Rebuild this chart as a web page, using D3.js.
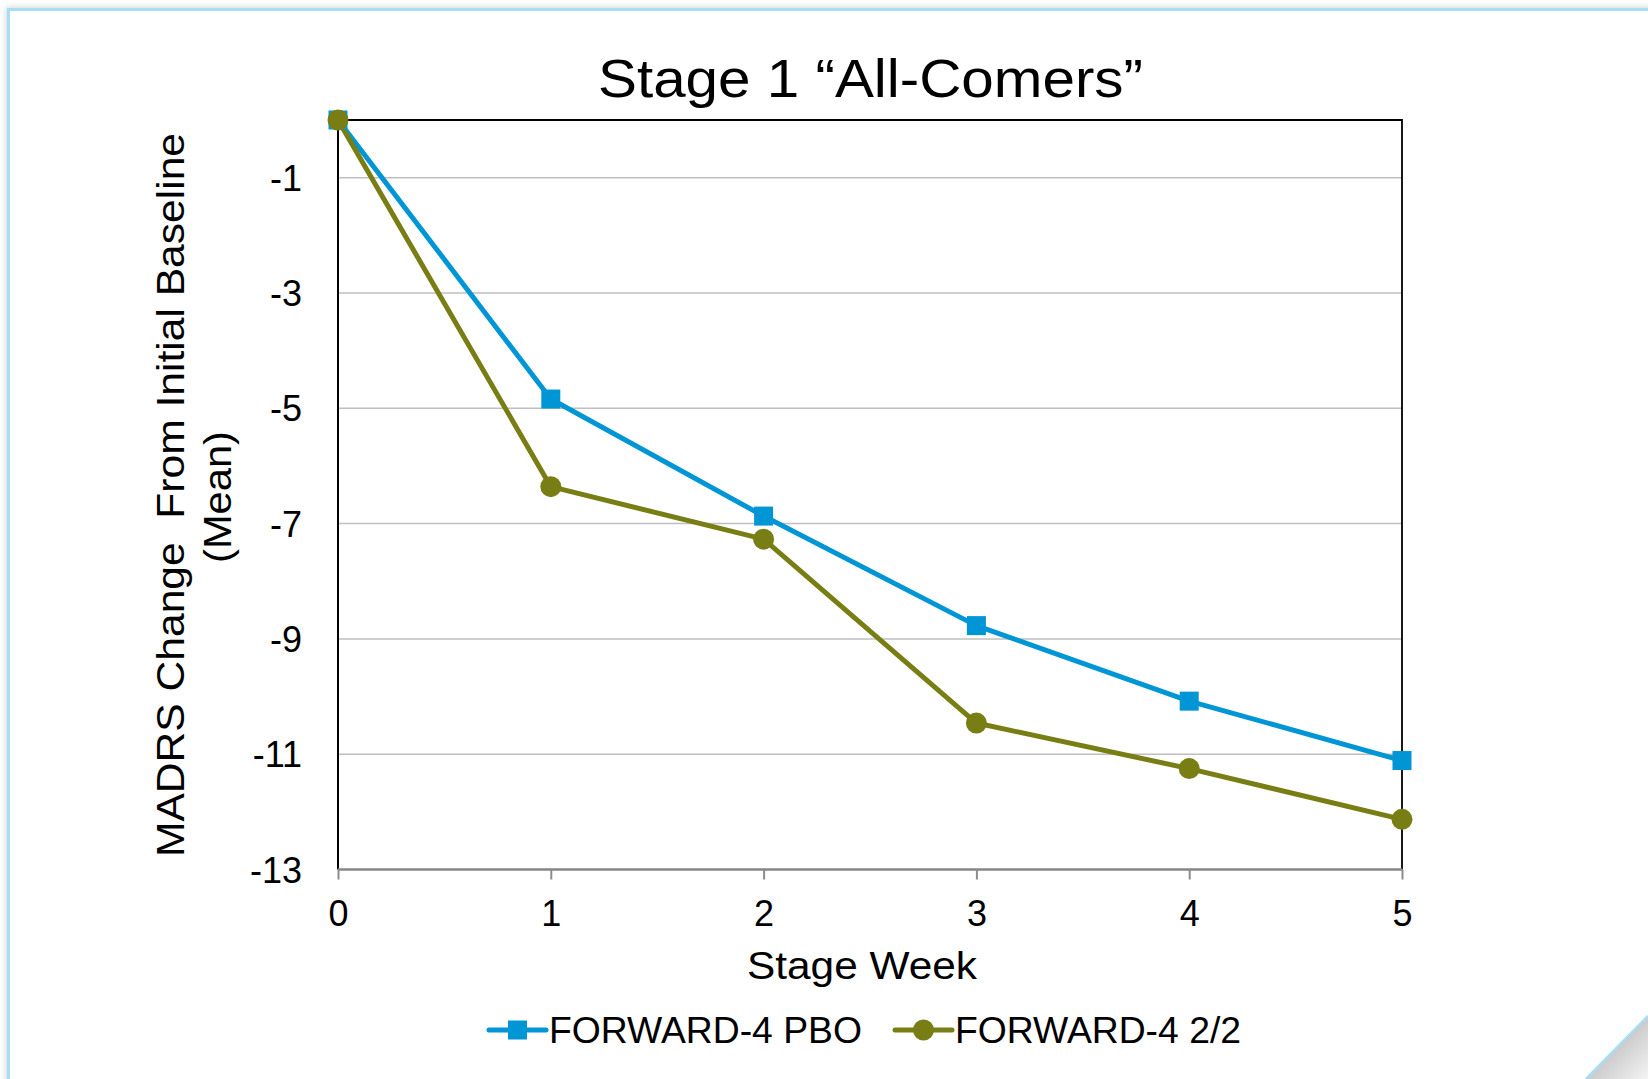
<!DOCTYPE html>
<html>
<head>
<meta charset="utf-8">
<script src="https://cdn.jsdelivr.net/npm/d3@7"></script>
<style>
  html, body { margin: 0; padding: 0; background: #ffffff; }
  svg { display: block; }
  text { font-family: "Liberation Sans", Arial, sans-serif; fill: #000; }
</style>
</head>
<body>
<svg id="chart" width="1648" height="1079"></svg>
<script>
// Stage weeks and mean MADRS change per arm
const weeks = [0, 1, 2, 3, 4, 5];
const pboValues = [0, -4.84, -6.87, -8.77, -10.08, -11.11];
const dualValues = [0, -6.36, -7.27, -10.46, -11.25, -12.13];
const seriesNames = ["FORWARD-4 PBO", "FORWARD-4 2/2"];
const yTickValues = [-1, -3, -5, -7, -9, -11, -13];
const yTickLabels = ["-1", "-3", "-5", "-7", "-9", "-11", "-13"];
const xTickLabels = ["0", "1", "2", "3", "4", "5"];
const titleText = "Stage 1 \u201CAll-Comers\u201D";
const xAxisTitle = "Stage Week";
const yAxisTitleLines = ["MADRS Change  From Initial Baseline", "(Mean)"];

const blue = "#0096D6";
const olive = "#787D14";

const svg = d3.select("#chart");
const defs = svg.append("defs");

// soft shadow around the slide frame
const shadow = defs.append("filter").attr("id", "frameShadow")
  .attr("x", "-5%").attr("y", "-5%").attr("width", "110%").attr("height", "110%");
shadow.append("feDropShadow").attr("dx", -1).attr("dy", -1)
  .attr("stdDeviation", 3).attr("flood-color", "#888").attr("flood-opacity", 0.35);

const curlGrad = defs.append("linearGradient").attr("id", "curlGrad")
  .attr("x1", "0").attr("y1", "0").attr("x2", "1").attr("y2", "1");
curlGrad.append("stop").attr("offset", "0").attr("stop-color", "#9a9a9a");
curlGrad.append("stop").attr("offset", "0.55").attr("stop-color", "#cfcfcf");
curlGrad.append("stop").attr("offset", "1").attr("stop-color", "#f4f4f4");

// slide frame
svg.append("rect")
  .attr("x", 8.5).attr("y", 9.5).attr("width", 1700).attr("height", 1120)
  .attr("fill", "#fff").attr("stroke", "#A6DDF7").attr("stroke-width", 3)
  .attr("filter", "url(#frameShadow)");

// page curl in the lower right corner
svg.append("polygon")
  .attr("points", "1648,1016 1586,1079 1648,1079")
  .attr("fill", "url(#curlGrad)");
svg.append("line")
  .attr("x1", 1648).attr("y1", 1016).attr("x2", 1586).attr("y2", 1079)
  .attr("stroke", "#A6DDF7").attr("stroke-width", 2.5);

// plot area
const plot = { left: 338, right: 1402, top: 120, bottom: 869.5 };

const x = d3.scaleLinear().domain([0, 5]).range([plot.left, plot.right]);
const y = d3.scaleLinear().domain([-13, 0]).range([plot.bottom, plot.top]);

// horizontal gridlines
svg.append("g")
  .selectAll("line")
  .data(yTickValues.filter(v => v !== -13))
  .join("line")
  .attr("x1", plot.left).attr("x2", plot.right)
  .attr("y1", d => y(d)).attr("y2", d => y(d))
  .attr("stroke", "#BFBFBF").attr("stroke-width", 1.5);

// top and right border of the plot area
svg.append("path")
  .attr("d", `M${plot.left},${y(0)} H${plot.right} V${plot.bottom}`)
  .attr("fill", "none").attr("stroke", "#000").attr("stroke-width", 1.8);

// y axis
const yAxis = d3.axisLeft(y).tickValues(yTickValues).tickSize(0).tickPadding(36)
  .tickFormat((d, i) => yTickLabels[i]);
const gy = svg.append("g").attr("transform", `translate(${plot.left},0)`).call(yAxis);
gy.select(".domain").remove();
gy.append("line")
  .attr("x1", 0).attr("x2", 0).attr("y1", y(0)).attr("y2", plot.bottom)
  .attr("stroke", "#000").attr("stroke-width", 2);
gy.selectAll(".tick text")
  .attr("font-size", 36).attr("font-family", "Liberation Sans, Arial, sans-serif")
  .attr("fill", "#000").attr("dy", "0.35em");

// x axis
const xAxis = d3.axisBottom(x).tickValues(weeks).tickSize(10).tickPadding(21)
  .tickFormat((d, i) => xTickLabels[i]);
const gx = svg.append("g").attr("transform", `translate(0,${plot.bottom})`).call(xAxis);
gx.select(".domain").attr("stroke", "#868686").attr("stroke-width", 2.5)
  .attr("d", `M${plot.left},0H${plot.right}`);
gx.selectAll(".tick line").attr("stroke", "#8c8c8c").attr("stroke-width", 2);
gx.selectAll(".tick text")
  .attr("font-size", 36).attr("font-family", "Liberation Sans, Arial, sans-serif")
  .attr("fill", "#000").attr("dy", "0.71em");

// series lines and markers
const line = d3.line().x((d, i) => x(weeks[i])).y(d => y(d));

svg.append("path").datum(pboValues)
  .attr("d", line).attr("fill", "none")
  .attr("stroke", blue).attr("stroke-width", 5).attr("stroke-linejoin", "round");
svg.append("path").datum(dualValues)
  .attr("d", line).attr("fill", "none")
  .attr("stroke", olive).attr("stroke-width", 5).attr("stroke-linejoin", "round");

const sq = 19;
svg.append("g").selectAll("rect")
  .data(pboValues)
  .join("rect")
  .attr("x", (d, i) => x(weeks[i]) - sq / 2)
  .attr("y", d => y(d) - sq / 2)
  .attr("width", sq).attr("height", sq)
  .attr("fill", blue);

svg.append("g").selectAll("circle")
  .data(dualValues)
  .join("circle")
  .attr("cx", (d, i) => x(weeks[i]))
  .attr("cy", d => y(d))
  .attr("r", 10.5)
  .attr("fill", olive);

// title
svg.append("text")
  .attr("x", 598).attr("y", 97)
  .attr("font-size", 53)
  .attr("textLength", 545).attr("lengthAdjust", "spacingAndGlyphs")
  .text(titleText);

// x axis title
svg.append("text")
  .attr("x", 747).attr("y", 979)
  .attr("font-size", 38)
  .attr("textLength", 230).attr("lengthAdjust", "spacingAndGlyphs")
  .text(xAxisTitle);

// y axis title, two rotated lines
const yTitle = svg.append("g");
yTitle.append("text")
  .attr("transform", "translate(184,857) rotate(-90)")
  .attr("font-size", 38)
  .attr("textLength", 724).attr("lengthAdjust", "spacingAndGlyphs")
  .attr("xml:space", "preserve")
  .style("white-space", "pre")
  .text(yAxisTitleLines[0]);
yTitle.append("text")
  .attr("transform", "translate(231,563) rotate(-90)")
  .attr("font-size", 38)
  .attr("textLength", 132).attr("lengthAdjust", "spacingAndGlyphs")
  .text(yAxisTitleLines[1]);

// legend
const legendY = 1030;
const legend = svg.append("g");
const legendItems = [
  { name: seriesNames[0], color: blue, x0: 489, x1: 546, tx: 549, len: 313, shape: "square" },
  { name: seriesNames[1], color: olive, x0: 895, x1: 952, tx: 955, len: 286, shape: "circle" }
];
legendItems.forEach(it => {
  legend.append("line")
    .attr("x1", it.x0).attr("x2", it.x1).attr("y1", legendY).attr("y2", legendY)
    .attr("stroke", it.color).attr("stroke-width", 5).attr("stroke-linecap", "round");
  const cx = (it.x0 + it.x1) / 2;
  if (it.shape === "square") {
    legend.append("rect").attr("x", cx - sq / 2).attr("y", legendY - sq / 2)
      .attr("width", sq).attr("height", sq).attr("fill", it.color);
  } else {
    legend.append("circle").attr("cx", cx).attr("cy", legendY).attr("r", 10.5)
      .attr("fill", it.color);
  }
  legend.append("text")
    .attr("x", it.tx).attr("y", legendY + 13)
    .attr("font-size", 36)
    .attr("textLength", it.len).attr("lengthAdjust", "spacingAndGlyphs")
    .text(it.name);
});
</script>
</body>
</html>
